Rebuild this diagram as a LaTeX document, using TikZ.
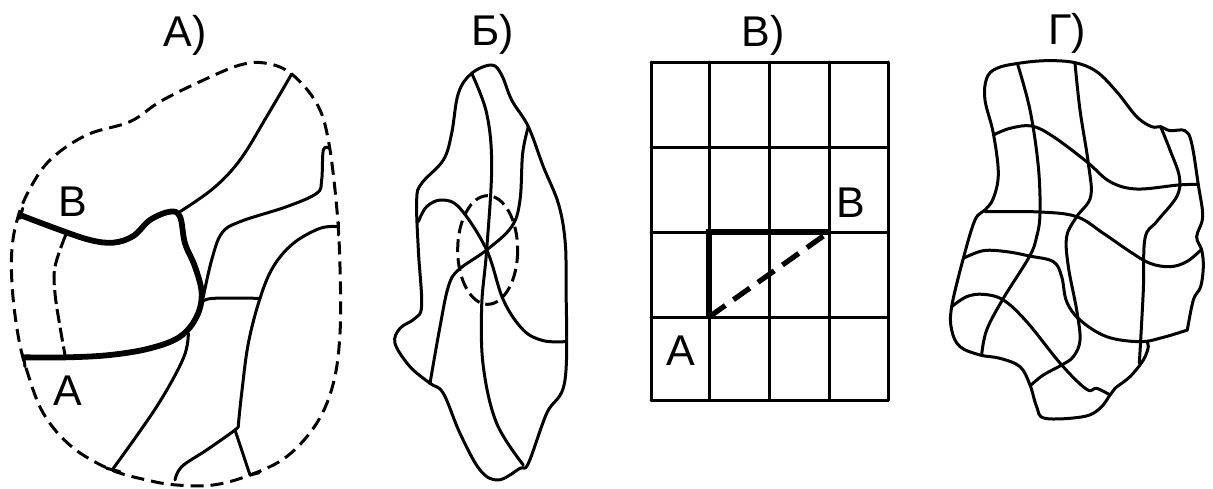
\documentclass[tikz,border=0pt]{standalone}
\usepackage{fontspec}
\setmainfont{Liberation Sans}
\tikzset{
  thinline/.style={line width=3pt,line cap=round,line join=round},
  thickline/.style={line width=5.8pt,line join=round},
  dashline/.style={line width=3pt,dash pattern=on 13pt off 7pt},
  lab/.style={font=\fontsize{43}{43}\selectfont,anchor=base,inner sep=0pt,outer sep=0pt},
  zoomed/.style={shift={(#1,0)},scale=0.33333}
}
\begin{document}
\begin{tikzpicture}[x=1pt,y=-1pt]
\useasboundingbox (0,0) rectangle (1213,488);
\fill[white] (0,0) rectangle (1213,488);
% labels
\node[lab] (ta) at (185,46) {А)};
\node[lab] (tb) at (493,45) {Б)};
\node[lab] (tc) at (763,46) {В)};
\node[lab] (td) at (1067,44) {Г)};
\node[lab] (ab) at (73,216) {В};
\node[lab] (aa) at (68,405) {А};
\node[lab] (cb) at (851,217) {В};
\node[lab] (ca) at (681,365) {А};
% panel A
\begin{scope}[zoomed=0]
\draw[dashline] plot[smooth cycle,tension=0.6] coordinates {(875,222)(800,190)(720,195)(600,245)(480,305)(390,365)(260,405)(150,480)(85,575)(50,665)(35,760)(38,880)(55,1010)(80,1110)(130,1240)(215,1340)(330,1408)(440,1440)(530,1455)(640,1455)(750,1425)(860,1370)(950,1270)(1000,1150)(1020,1000)(1020,800)(1010,620)(985,420)(950,310)};
\draw[thinline] plot[smooth,tension=0.6] coordinates {(875,222)(800,350)(720,480)(640,565)(540,635)};
\draw[thinline] plot[smooth,tension=0.6] coordinates {(988,445)(970,450)(965,540)(950,580)(860,620)(720,665)(665,700)(635,780)(610,890)};
\draw[thinline] plot[smooth,tension=0.6] coordinates {(1015,680)(960,685)(880,730)(820,800)(780,895)(745,1030)(725,1180)(715,1275)};
\draw[thinline] plot[smooth,tension=0.6] coordinates {(715,1275)(705,1290)(620,1350)(545,1400)(525,1440)};
\draw[thinline] plot[smooth,tension=0.6] coordinates {(608,905)(640,895)(780,895)};
\draw[thinline] (705,1290) -- (750,1425) -- (778,1418);
\draw[thinline] plot[smooth,tension=0.6] coordinates {(565,1000)(550,1075)(470,1220)(340,1405)};
\draw[thinline] (320,1405) -- (360,1415);
\draw[thinline] (1015,668) -- (1015,705);
\draw[thinline] (70,1065) -- (75,1100);
\draw[thinline] (68,625) -- (60,655);
\draw[dashline,dash pattern=on 14pt off 5pt] plot[smooth,tension=0.6] coordinates {(197,705)(165,800)(165,880)(180,980)(195,1065)};
\draw[thickline] plot[smooth,tension=0.6] coordinates {(60,645)(180,690)(270,720)(340,728)(400,708)(450,660)(510,635)(540,650)(555,730)(585,800)(605,880)(590,950)(540,1010)(450,1045)(330,1065)(200,1072)(75,1072)};
\end{scope}
% panel B
\begin{scope}[zoomed=380]
\draw[thinline] plot[smooth cycle,tension=0.6] coordinates {(275,220)(335,195)(365,225)(395,300)(445,380)(490,500)(535,610)(555,720)(558,850)(555,1140)(500,1240)(445,1390)(420,1405)(355,1440)(300,1410)(240,1300)(190,1180)(150,1150)(90,1100)(45,1030)(60,985)(105,955)(125,915)(115,750)(110,600)(125,550)(190,480)(215,400)(235,280)};
\draw[thinline] plot[smooth,tension=0.6] coordinates {(275,220)(320,340)(335,500)(320,750)(305,920)(310,1100)(350,1270)(430,1395)};
\draw[thinline] plot[smooth,tension=0.6] coordinates {(115,665)(140,620)(185,600)(240,625)(320,750)(370,900)(430,990)(490,1022)(555,1025)};
\draw[thinline] plot[smooth,tension=0.6] coordinates {(445,380)(428,460)(420,600)(395,680)(320,750)(235,810)(205,860)(180,980)(150,1150)};
\draw[dashline,dash pattern=on 13pt off 6pt] (323,750) ellipse [x radius=90,y radius=163];
\end{scope}
% panel C
\foreach \x in {651,709,769,829,888} {\draw[thinline] (\x,62) -- (\x,400);}
\foreach \y in {62,147,232,317,400} {\draw[thinline] (651,\y) -- (888,\y);}
\coordinate (pa) at (709,317);
\coordinate (pc) at (709,232);
\coordinate (pb) at (829,232);
\draw[line width=5.2pt,line join=miter] (pa) -- (pc) -- (pb);
\draw[line width=5.2pt,dash pattern=on 20pt off 10pt] (pa) -- (pb);
% panel D
\begin{scope}[zoomed=930]
\draw[thinline] plot[smooth,tension=0.6] coordinates {(772,990)(790,900)(812,860)(820,800)(815,750)(800,710)(818,650)(805,555)(785,430)(765,392)(720,392)(692,380)(665,380)(620,350)(560,275)(500,215)(435,188)(350,182)(265,190)(200,205)(170,235)(165,300)(190,400)(205,520)(190,595)(165,630)(135,660)(100,775)(65,920)(65,990)(90,1040)(150,1065)(210,1075)(270,1100)(300,1155)(320,1220)(345,1255)(460,1250)(510,1225)(540,1185)(555,1165)(600,1130)(640,1080)(655,1040)(650,1025)};
\draw[thinline] plot[smooth,tension=0.6] coordinates {(262,190)(300,330)(325,500)(330,640)(320,710)(298,770)(220,895)(170,990)(155,1065)};
\draw[thinline] plot[smooth,tension=0.6] coordinates {(435,190)(450,330)(475,490)(482,590)(440,650)(410,710)(415,800)(440,930)(450,1020)(430,1070)(395,1095)(340,1125)(303,1155)};
\draw[thinline] plot[smooth,tension=0.6] coordinates {(190,405)(240,385)(305,378)(370,410)(470,485)(540,545)(620,567)(745,555)(805,553)};
\draw[thinline] plot[smooth,tension=0.6] coordinates {(692,380)(720,450)(748,530)(740,590)(680,665)(645,715)(640,870)(628,1090)};
\draw[thinline] plot[smooth,tension=0.6] coordinates {(165,635)(330,636)(440,650)(520,700)(600,755)(660,790)(720,800)(770,785)(815,748)};
\draw[thinline] plot[smooth,tension=0.6] coordinates {(100,775)(160,752)(230,755)(298,768)(370,785)(395,830)(410,905)(450,960)(530,1010)(630,1025)(700,1012)(772,990)};
\draw[thinline] plot[smooth,tension=0.6] coordinates {(65,920)(110,890)(160,883)(220,900)(290,965)(395,1095)(470,1168)(500,1165)(540,1185)};
\end{scope}
\end{tikzpicture}
\end{document}
